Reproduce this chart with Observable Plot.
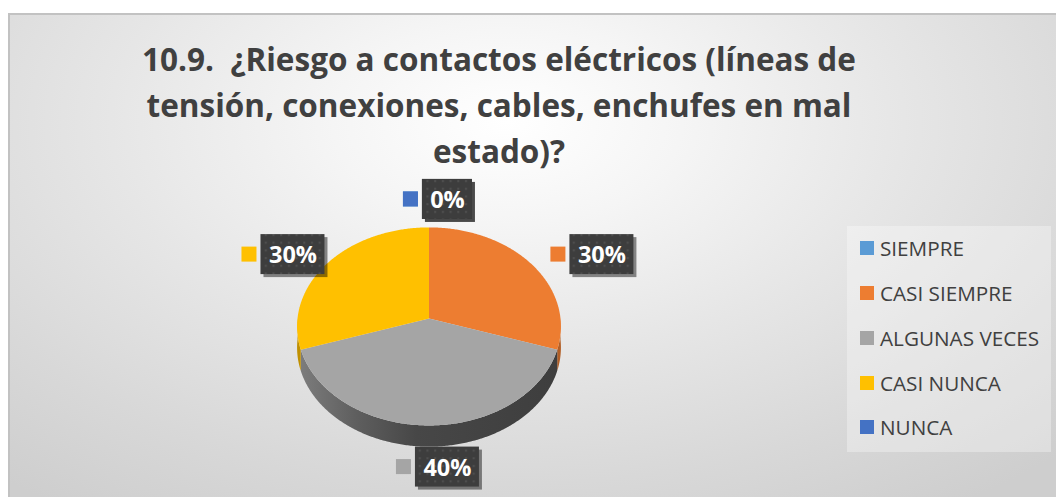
<!DOCTYPE html>
<html>
<head>
<meta charset="utf-8">
<script src="https://cdn.jsdelivr.net/npm/d3@7"></script>
<script src="https://cdn.jsdelivr.net/npm/@observablehq/plot@0.6"></script>
<style>
  html, body { margin: 0; padding: 0; width: 1056px; height: 497px; overflow: hidden; background: #ffffff; font-family: "Open Sans", sans-serif; }
  #bg { position: absolute; left: 8px; top: 13px; width: 1060px; height: 490px; box-sizing: border-box;
        border-top: 2px solid #c2c2c2; border-left: 2px solid #c2c2c2;
        background: radial-gradient(ellipse 75% 95% at 47% 22%, #ffffff 0%, #f5f5f5 22%, #e6e6e6 50%, #d8d8d8 78%, #cecece 100%); }
  #plot { position: absolute; left: 0; top: 0; }
  #title { position: absolute; left: 0; top: 36px; width: 998px; text-align: center; font-weight: 700; font-size: 31.5px; line-height: 46px; color: #404040; white-space: pre; }
  #legend { position: absolute; left: 847px; top: 226px; width: 204px; height: 226px; background: rgba(255,255,255,0.32); }
  .item { display: flex; align-items: center; height: 44.75px; padding-left: 13px; font-size: 20.7px; color: #404040; white-space: nowrap; }
  .sw { width: 14px; height: 14px; margin-right: 6px; flex: none; }
</style>
</head>
<body>
<div id="bg"></div>
<div id="plot"></div>
<div id="title"></div>
<div id="legend"></div>
<script>
// ---- data ----
const titleLines = [
  "10.9.\u00a0 ¿Riesgo a contactos eléctricos (líneas de",
  "tensión, conexiones, cables, enchufes en mal",
  "estado)?"
];
const categories = ["SIEMPRE", "CASI SIEMPRE", "ALGUNAS VECES", "CASI NUNCA", "NUNCA"];
const values = [0, 30, 40, 30, 0];
const labels = ["0%", "30%", "40%", "30%", "0%"];
const colors = ["#5B9BD5", "#ED7D31", "#A5A5A5", "#FFC000", "#4472C4"];

// ---- title & legend ----
document.getElementById("title").textContent = titleLines.join("\n");
const legend = d3.select("#legend");
categories.forEach((c, i) => {
  const it = legend.append("div").attr("class", "item");
  it.append("div").attr("class", "sw").style("background", colors[i]);
  it.append("span").text(c);
});

// ---- 3D pie geometry (unit disc, mild perspective) ----
const P = 0.08;          // perspective strength
const depth = 0.215;     // side height in y units
const proj = (t) => {    // angle clockwise from 12 o'clock
  const X = Math.sin(t), Z = Math.cos(t);
  const s = 1 / (1 + P * Z);
  return [X * s, Z * s];
};
const arcPts = (a0, a1) => {
  const n = Math.max(2, Math.ceil((a1 - a0) / 0.01));
  return d3.range(n + 1).map(k => proj(a0 + (a1 - a0) * k / n));
};
const arcs = d3.pie().sort(null).value(d => d)(values);

const marks = [];

// soft shadow of the pie body
const body = [...arcPts(-Math.PI / 2, Math.PI / 2),
              ...arcPts(Math.PI / 2, 3 * Math.PI / 2).map(([x, y]) => [x, y - depth])];
marks.push(Plot.line(body, {x: d => d[0] * 1.03, y: d => d[1] - 0.04, fill: "#000", fillOpacity: 0.22, stroke: "none", ariaLabel: "pie-shadow"}));

// sides (front half only)
arcs.forEach((a, i) => {
  const s0 = Math.max(a.startAngle, Math.PI / 2), s1 = Math.min(a.endAngle, 3 * Math.PI / 2);
  if (values[i] === 0 || s1 <= s0) return;
  const top = arcPts(s0, s1);
  const bottom = top.map(([x, y]) => [x, y - depth]).reverse();
  const fill = categories[i] === "ALGUNAS VECES" ? "url(#sideGray)" : d3.color(colors[i]).darker(0.8).formatHex();
  marks.push(Plot.line([...top, ...bottom], {x: d => d[0], y: d => d[1], fill, stroke: "none"}));
});

// top faces
arcs.forEach((a, i) => {
  if (values[i] === 0) return;
  const pts = [[0, 0], ...arcPts(a.startAngle, a.endAngle)];
  marks.push(Plot.line(pts, {x: d => d[0], y: d => d[1], fill: colors[i], stroke: "none"}));
});

// ---- data labels (outside, with legend key) ----
const KX = 131.5, KY = 98.4; // px per unit of the x / y scales below
const lab = arcs.map((a, i) => {
  const mid = (a.startAngle + a.endAngle) / 2;
  const gx = 0.068 + 1.452 * Math.sin(mid);
  const gy = -0.15 + 1.36 * Math.cos(mid);
  const w = 22 + 14 * labels[i].length;
  const W = 15 + 4 + w;
  const kx = gx + (-W / 2 + 7.5) / KX;
  const bx = gx + (-W / 2 + 19 + w / 2) / KX;
  return {i, label: labels[i], color: colors[i], gy, kx, bx, hw: w / 2 / KX};
});
const hh = 20 / KY, kh = 7.5 / KY, kw = 7.5 / KX;

lab.forEach(d => {
  marks.push(Plot.rect([d], {x1: d => d.kx - kw, x2: d => d.kx + kw, y1: d => d.gy - kh, y2: d => d.gy + kh, fill: d => d.color}));
  marks.push(Plot.rect([d], {x1: d => d.bx - d.hw, x2: d => d.bx + d.hw, y1: d => d.gy - hh, y2: d => d.gy + hh, fill: "#000", fillOpacity: 0.45, dx: 3, dy: 3, ariaLabel: "box-shadow"}));
  marks.push(Plot.rect([d], {x1: d => d.bx - d.hw, x2: d => d.bx + d.hw, y1: d => d.gy - hh, y2: d => d.gy + hh, fill: "url(#dots)"}));
  marks.push(Plot.text([d], {x: "bx", y: "gy", text: "label", fill: "#ffffff", fontSize: 23.5, fontWeight: "bold", fontFamily: "Open Sans", dy: 1}));
});

const svg = Plot.plot({
  width: 1056,
  height: 497,
  margin: 0,
  style: {background: "transparent", overflow: "visible"},
  x: {domain: [-1, 1], range: [297, 560], axis: null},
  y: {domain: [-1, 1], range: [416.4, 219.6], axis: null},
  color: {type: "identity"},
  marks
});

// defs: pattern, gradient, filters
const defs = d3.select(svg).insert("defs", ":first-child");
const pat = defs.append("pattern").attr("id", "dots").attr("patternUnits", "userSpaceOnUse").attr("width", 7.7).attr("height", 7.7);
pat.append("rect").attr("width", 7.7).attr("height", 7.7).attr("fill", "#3d3d3d");
pat.append("rect").attr("x", 3).attr("y", 3).attr("width", 2).attr("height", 2).attr("fill", "#505050");
const g = defs.append("linearGradient").attr("id", "sideGray").attr("x1", 0).attr("x2", 1).attr("y1", 0).attr("y2", 0);
[[0, "#7c7c7c"], [0.22, "#5e5e5e"], [0.45, "#474747"], [1, "#3e3e3e"]].forEach(([o, c]) => g.append("stop").attr("offset", o).attr("stop-color", c));
defs.append("filter").attr("id", "blur6").attr("x", "-20%").attr("y", "-20%").attr("width", "140%").attr("height", "140%")
  .append("feGaussianBlur").attr("stdDeviation", 6);
defs.append("filter").attr("id", "blur2").attr("x", "-20%").attr("y", "-20%").attr("width", "140%").attr("height", "140%")
  .append("feGaussianBlur").attr("stdDeviation", 2);
d3.select(svg).selectAll('g[aria-label="pie-shadow"]').attr("filter", "url(#blur6)");
d3.select(svg).selectAll('g[aria-label="box-shadow"]').attr("filter", "url(#blur2)");

document.getElementById("plot").appendChild(svg);
</script>
</body>
</html>
